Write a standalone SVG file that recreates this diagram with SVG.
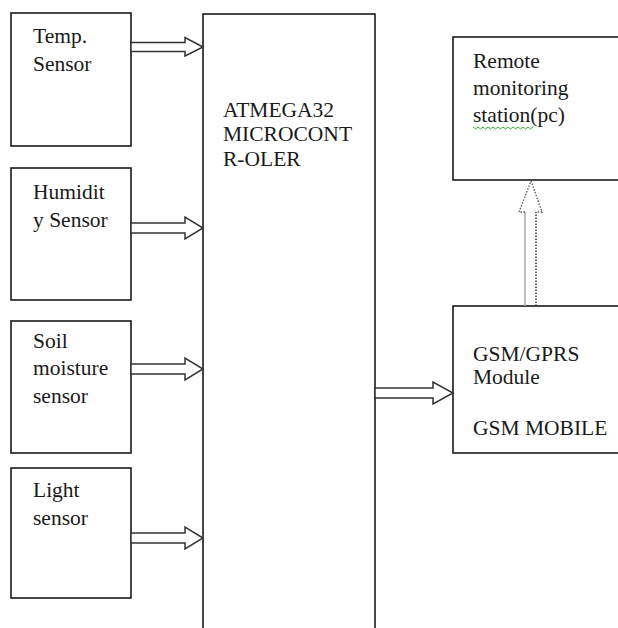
<svg xmlns="http://www.w3.org/2000/svg" width="618" height="628" viewBox="0 0 618 628">
<style>
.box{fill:#fff;stroke:#1a1a1a;stroke-width:1.6}
.t{font-family:"Liberation Serif","Times New Roman",serif;font-size:21.5px;fill:#1a1a1a}
.arr{fill:#fff;stroke:#333;stroke-width:1.5;stroke-linejoin:miter}
</style>
<rect width="618" height="628" fill="#fff"/>
<g id="temp"><rect class="box" x="11" y="13" width="120" height="133"/><text class="t" x="33" y="43">Temp.</text><text class="t" x="33" y="71">Sensor</text></g>
<g id="humidity"><rect class="box" x="11" y="168" width="120" height="132"/><text class="t" x="33" y="199">Humidit</text><text class="t" x="33" y="227">y Sensor</text></g>
<g id="soil"><rect class="box" x="11" y="321" width="120" height="132"/><text class="t" x="33" y="348">Soil</text><text class="t" x="33" y="375">moisture</text><text class="t" x="33" y="403">sensor</text></g>
<g id="light"><rect class="box" x="11" y="468" width="120" height="130"/><text class="t" x="33" y="497">Light</text><text class="t" x="33" y="525">sensor</text></g>
<g id="mcu"><rect class="box" x="203" y="14" width="172" height="640"/><text class="t" x="223" y="117">ATMEGA32</text><text class="t" x="223" y="141">MICROCONT</text><text class="t" x="223" y="166">R-OLER</text></g>
<g id="remote"><rect class="box" x="453" y="37" width="180" height="143"/><text class="t" x="473" y="68">Remote</text><text class="t" x="473" y="95">monitoring</text><text class="t" x="473" y="122">station(pc)</text><path d="M473 127 l2.5 2 l2.5 -2 l2.5 2 l2.5 -2 l2.5 2 l2.5 -2 l2.5 2 l2.5 -2 l2.5 2 l2.5 -2 l2.5 2 l2.5 -2 l2.5 2 l2.5 -2 l2.5 2 l2.5 -2 l2.5 2 l2.5 -2 l2.5 2 l2.5 -2 l2.5 2 l2.5 -2 l2.5 2 l2.5 -2" fill="none" stroke="#3aa83a" stroke-width="1"/></g>
<g id="gsm"><rect class="box" x="453" y="306" width="180" height="147"/><text class="t" x="473" y="361">GSM/GPRS</text><text class="t" x="473" y="384">Module</text><text class="t" x="473" y="435">GSM MOBILE</text></g>
<g id="connectors">
<polygon class="arr" points="131,42.5 185,42.5 185,37.5 203,47 185,56 185,51.5 131,51.5"/>
<polygon class="arr" points="131,223 185,223 185,217 203,228 185,239 185,233 131,233"/>
<polygon class="arr" points="131,364 185,364 185,358 203,369 185,380 185,374 131,374"/>
<polygon class="arr" points="131,533 185,533 185,527 203,538 185,549 185,543 131,543"/>
<polygon class="arr" points="375,388 433,388 433,382 453,393 433,404 433,398 375,398"/>
<g id="uplink">
<line x1="525" y1="306" x2="525" y2="212" stroke="#aaa" stroke-width="1.5"/>
<line x1="536" y1="306" x2="536" y2="212" stroke="#333" stroke-width="1.5" stroke-dasharray="1.5,1.5"/>
<path d="M525 212 L519 212 L531 181 L542 212 L536 212" fill="#fff" stroke="#555" stroke-width="1.3" stroke-dasharray="1.5,1.5"/>
</g>
</g>
</svg>
